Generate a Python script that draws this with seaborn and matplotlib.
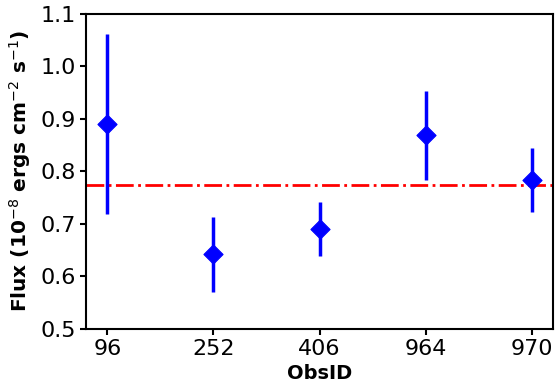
import matplotlib
matplotlib.use("Agg")
import matplotlib.pyplot as plt
import seaborn as sns
import numpy as np
import pandas as pd

obsids = ["96", "252", "406", "964", "970"]
flux = [0.890, 0.642, 0.690, 0.869, 0.783]
err = [0.171, 0.071, 0.051, 0.085, 0.061]
mean_flux = 0.775

df = pd.DataFrame({"obs": obsids, "pos": np.arange(len(obsids)), "flux": flux, "err": err})

fig, ax = plt.subplots(figsize=(5.55, 3.87), dpi=100)
ax.errorbar(df["pos"], df["flux"], yerr=df["err"], fmt="none", ecolor="blue", elinewidth=2.5, capsize=0, zorder=2)
sns.scatterplot(data=df, x="pos", y="flux", marker="D", color="blue", s=95, edgecolor="blue", ax=ax, zorder=3)
ax.axhline(mean_flux, color="red", linestyle="-.", linewidth=2, zorder=1)

ax.set_xlim(-0.2, 4.2)
ax.set_ylim(0.5, 1.1)
ax.set_xticks(df["pos"])
ax.set_xticklabels(obsids)
ax.set_yticks(np.arange(0.5, 1.101, 0.1))
ax.tick_params(labelsize=16, width=1.5, length=4)
for s in ax.spines.values():
    s.set_linewidth(1.5)
ax.set_xlabel("ObsID", fontsize=14, fontweight="bold", labelpad=3)
ax.set_ylabel(r"Flux (10$^{-8}$ ergs cm$^{-2}$ s$^{-1}$)", fontsize=14.5, fontweight="bold", labelpad=5)
plt.subplots_adjust(left=0.155, right=0.997, top=0.964, bottom=0.15)
fig.savefig("out.png", dpi=100)
